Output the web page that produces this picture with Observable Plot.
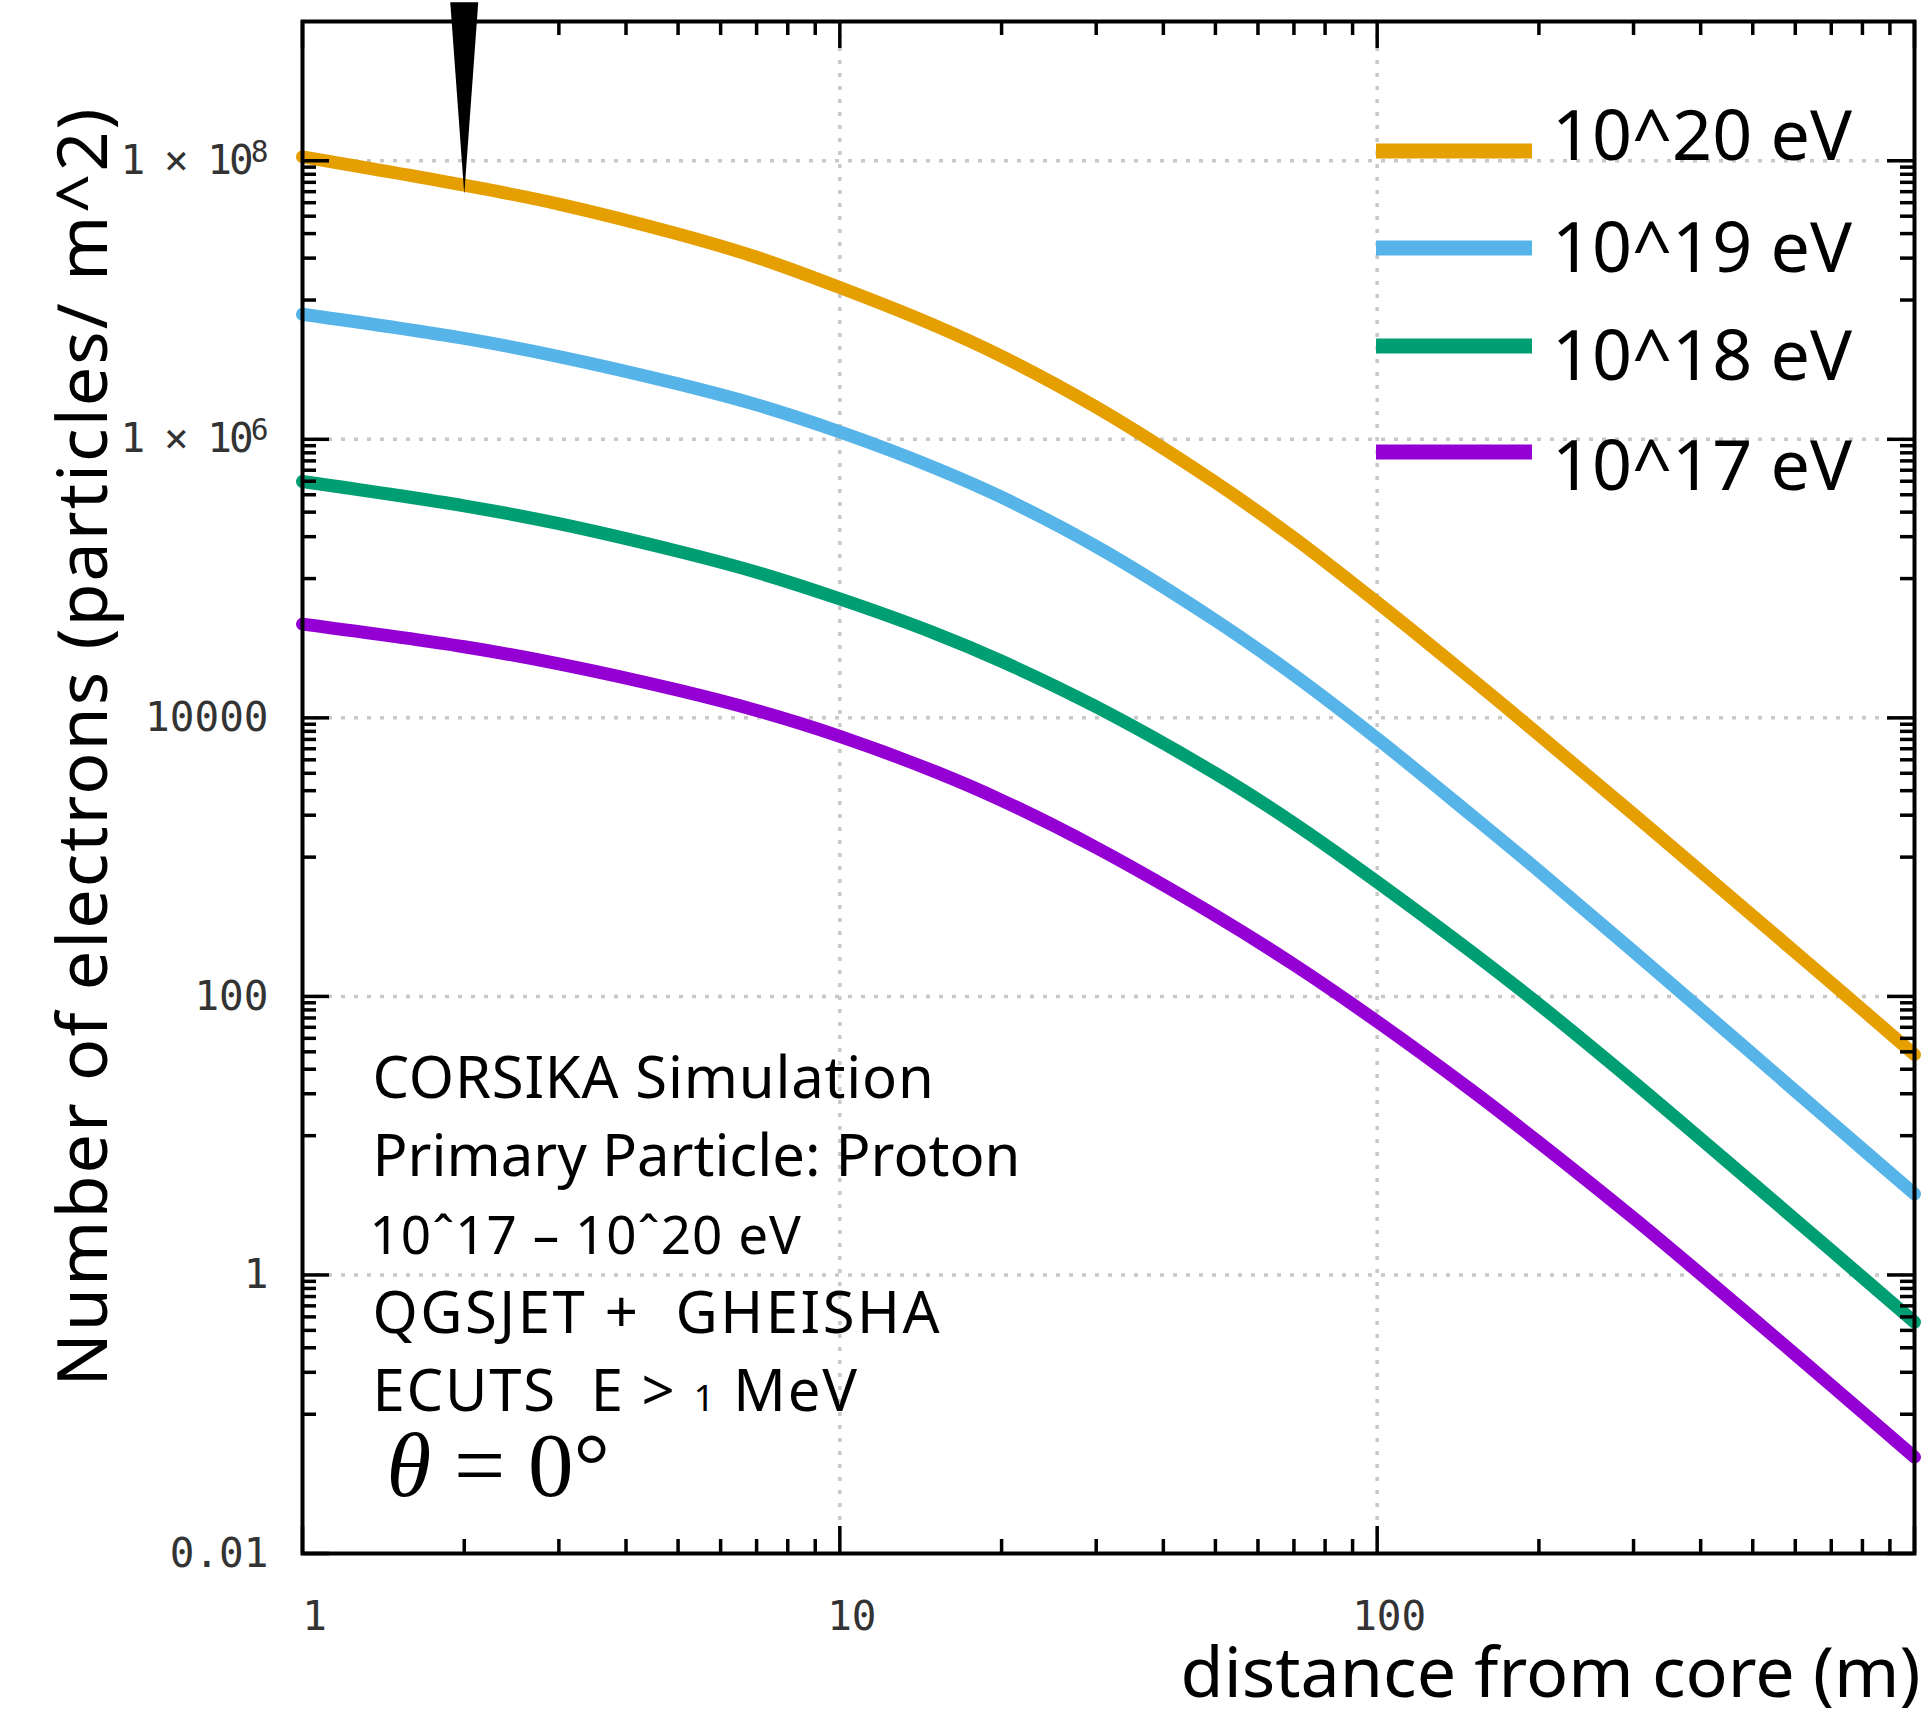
<!DOCTYPE html>
<html>
<head>
<meta charset="utf-8">
<script src="https://cdn.jsdelivr.net/npm/d3@7"></script>
<script src="https://cdn.jsdelivr.net/npm/@observablehq/plot@0.6"></script>
<style>
  html, body { margin: 0; padding: 0; background: #fff; }
  #chart svg { display: block; overflow: visible; }
  #chart svg text { white-space: pre; }
</style>
</head>
<body>
<div id="chart"></div>
<script>
// ---- data ----
const distance = [1, 2, 3, 5, 7, 10, 15, 20, 30, 50, 70, 100, 150, 200, 300, 500, 700, 1000];
const e20 = [1.067e8, 6.68e7, 4.89e7, 2.98e7, 2.03e7, 1.23e7, 6.58e6, 3.95e6, 1.70e6, 4.90e5, 1.96e5, 6.74e4, 1.90e4, 7.56e3, 2.03e3, 379, 125, 38.2];
const e19 = [7.90e6, 5.30e6, 3.93e6, 2.50e6, 1.77e6, 1.13e6, 6.25e5, 3.84e5, 1.70e5, 5.01e4, 2.03e4, 7.09e3, 1.99e3, 795, 210, 38.5, 12.5, 3.82];
const e18 = [4.98e5, 3.33e5, 2.48e5, 1.57e5, 1.11e5, 7.14e4, 4.06e4, 2.55e4, 1.20e4, 3.99e3, 1.75e3, 664, 208, 87.7, 24.3, 4.55, 1.50, 0.458];
const e17 = [4.71e4, 3.24e4, 2.44e4, 1.58e4, 1.13e4, 7.37e3, 4.13e3, 2.56e3, 1.17e3, 381, 169, 66.0, 21.1, 8.96, 2.56, 0.489, 0.161, 0.0492];

const seriesNames = ["10^20 eV", "10^19 eV", "10^18 eV", "10^17 eV"];
const seriesValues = [e20, e19, e18, e17];
const seriesColors = ["#E69F00", "#56B4E9", "#009E73", "#9400D3"];

const yMajorTicks = [1e-2, 1, 1e2, 1e4, 1e6, 1e8];
const yTickLabels = ["0.01", "1", "100", "10000", "1 × 10⁶", "1 × 10⁸"];
const xMajorTicks = [1, 10, 100];
const xTickLabels = ["1", "10", "100"];
const yGridValues = [1, 1e2, 1e4, 1e6, 1e8];
const xGridValues = [10, 100];

const markerDistance = 2; // black spike marker on the 10^20 eV curve

const annotationLines = ["CORSIKA Simulation", "Primary Particle: Proton", "10ˆ17 – 10ˆ20 eV", "QGSJET +  GHEISHA", "ECUTS  E > 1 MeV", "θ = 0°"];
const yTitle = "Number of electrons (particles/ m^2)";
const xTitle = "distance from core (m)";

// ---- derived tables ----
const rows = seriesNames.flatMap((name, i) => distance.map((d, j) => ({series: name, d, v: seriesValues[i][j]})));
const markerRow = [{d: markerDistance, v: e20[distance.indexOf(markerDistance)]}];
const yMinorTicks = [-1, 1, 3, 5, 7].flatMap(e => d3.range(1, 10).map(m => m * Math.pow(10, e)));
const xMinorTicks = [0, 1, 2].flatMap(e => d3.range(2, 10).map(m => m * Math.pow(10, e)));
const xMajorAll = [1, 10, 100, 1000];

// ---- layout ----
const W = 1930, H = 1711;
const mL = 302, mR = 16, mT = 21, mB = 158;
const innerW = W - mL - mR, innerH = H - mT - mB;
const majorLen = 27, minorLen = 14;
const tickStyle = {stroke: "black", strokeWidth: 3.5};
const sans = "Noto Sans";
const mono = "DejaVu Sans Mono";

function legendMark(index, scales, values, dims) {
  const g = d3.create("svg:g");
  const right = dims.width - dims.marginRight;
  const top = dims.marginTop;
  const swatchY = [130, 227, 325, 431];
  const baseY = [139, 251, 359, 469];
  seriesNames.forEach((name, i) => {
    g.append("line")
      .attr("x1", right - 538).attr("x2", right - 382)
      .attr("y1", top + swatchY[i]).attr("y2", top + swatchY[i])
      .attr("stroke", seriesColors[i]).attr("stroke-width", 15);
    g.append("text")
      .attr("x", right - 362).attr("y", top + baseY[i])
      .attr("text-anchor", "start")
      .attr("font-family", sans).attr("font-size", 70)
      .attr("fill", "black")
      .text(name);
  });
  return g.node();
}

const annoStyle = {frameAnchor: "top-left", textAnchor: "start", lineAnchor: "bottom", fill: "black"};
const annoSpacing = {"CORSIKA Simulation": "0.8px", "Primary Particle: Proton": "0px", "10ˆ17 – 10ˆ20 eV": "1px",
  "QGSJET +  GHEISHA": "2.5px", "ECUTS  E > 1 MeV": "1.8px"};

const chart = Plot.plot({
  width: W, height: H,
  marginLeft: mL, marginRight: mR, marginTop: mT, marginBottom: mB,
  style: {fontFamily: sans, background: "white", overflow: "visible"},
  x: {type: "log", domain: [1, 1000]},
  y: {type: "log", domain: [1e-2, 1e9]},
  color: {domain: seriesNames, range: seriesColors},
  marks: [
    // dotted grid
    Plot.ruleY(yGridValues, {stroke: "#c8c8c8", strokeWidth: 3.5, strokeDasharray: "4,9"}),
    Plot.ruleX(xGridValues, {stroke: "#c8c8c8", strokeWidth: 3.5, strokeDasharray: "4,9"}),
    // curves
    Plot.line(rows, {x: "d", y: "v", stroke: "series", strokeWidth: 13, curve: "catmull-rom", strokeLinecap: "round"}),
    // ticks: left & right (y)
    Plot.tickY(yMajorTicks, {y: d => d, insetRight: innerW - majorLen, ...tickStyle}),
    Plot.tickY(yMinorTicks, {y: d => d, insetRight: innerW - minorLen, ...tickStyle}),
    Plot.tickY(yMajorTicks, {y: d => d, insetLeft: innerW - majorLen, ...tickStyle}),
    Plot.tickY(yMinorTicks, {y: d => d, insetLeft: innerW - minorLen, ...tickStyle}),
    // ticks: bottom & top (x)
    Plot.tickX(xMajorAll, {x: d => d, insetTop: innerH - majorLen, ...tickStyle}),
    Plot.tickX(xMinorTicks, {x: d => d, insetTop: innerH - minorLen, ...tickStyle}),
    Plot.tickX(xMajorAll, {x: d => d, insetBottom: innerH - majorLen, ...tickStyle}),
    Plot.tickX(xMinorTicks, {x: d => d, insetBottom: innerH - minorLen, ...tickStyle}),
    Plot.frame({stroke: "black", strokeWidth: 4}),
    // axes labels
    Plot.axisY(yMajorTicks, {tickSize: 0, tickPadding: 34, tickFormat: d => yTickLabels[yMajorTicks.indexOf(d)],
      fontSize: 41, fontFamily: mono, color: "#333", label: null}),
    Plot.axisX(xMajorTicks, {tickSize: 0, tickPadding: 47, dx: 12, tickFormat: d => xTickLabels[xMajorTicks.indexOf(d)],
      fontSize: 41, fontFamily: mono, color: "#333", label: null}),
    // axis titles
    Plot.text([yTitle], {frameAnchor: "left", dx: -196, dy: -41, rotate: -90, fontSize: 70,
      textAnchor: "middle", lineAnchor: "bottom", fill: "black"}),
    Plot.text([xTitle], {frameAnchor: "bottom-right", dx: 6, dy: 143, fontSize: 70,
      textAnchor: "end", lineAnchor: "bottom", fill: "black"}),
    // spike marker
    Plot.vector(markerRow, {x: "d", y: "v", length: 192, rotate: 180, anchor: "end", shape: "spike", r: 14,
      dy: 9, fill: "black", stroke: "none"}),
    // annotation block
    Plot.text([annotationLines[0]], {...annoStyle, dx: 70, dy: 1097 - mT, fontSize: 58}),
    Plot.text([annotationLines[1]], {...annoStyle, dx: 70, dy: 1175 - mT, fontSize: 58}),
    Plot.text([annotationLines[2]], {...annoStyle, dx: 67, dy: 1253 - mT, fontSize: 53}),
    Plot.text([annotationLines[3]], {...annoStyle, dx: 70, dy: 1332 - mT, fontSize: 58}),
    Plot.text([annotationLines[4]], {...annoStyle, dx: 70, dy: 1410 - mT, fontSize: 58}),
    Plot.text([annotationLines[5]], {...annoStyle, dx: 84, dy: 1495 - mT, fontSize: 91, fontFamily: "Liberation Serif"}),
    // legend
    legendMark
  ]
});

// small typographic touches
d3.select(chart).selectAll("text").each(function() {
  const t = d3.select(this);
  const s = this.textContent;
  if (s in annoSpacing) t.style("letter-spacing", annoSpacing[s]);
  if (s === "ECUTS  E > 1 MeV") {
    t.text(null);
    t.append("tspan").text("ECUTS  E > ");
    t.append("tspan").attr("font-size", "0.64em").attr("fill", "black").text("1");
    t.append("tspan").text(" MeV");
  } else if (s === "θ = 0°") {
    t.text(null);
    t.append("tspan").attr("font-style", "italic").text("θ");
    t.append("tspan").text(" = 0°");
  } else if (s === "1 × 10⁸" || s === "1 × 10⁶") {
    const sup = s === "1 × 10⁸" ? "8" : "6";
    t.text(null);
    t.append("tspan").style("letter-spacing", "-3px").text("1 × 10");
    t.append("tspan").attr("dy", "-0.42em").attr("font-size", "0.72em").text(sup);
  } else if (s === yTitle) {
    t.style("letter-spacing", "2px");
  }
});

document.getElementById("chart").appendChild(chart);
</script>
</body>
</html>
